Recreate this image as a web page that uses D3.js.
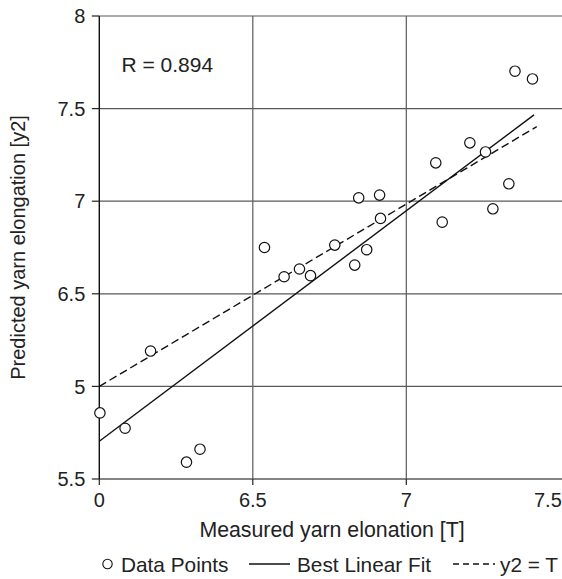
<!DOCTYPE html>
<html>
<head>
<meta charset="utf-8">
<script src="https://cdn.jsdelivr.net/npm/d3@7"></script>
<style>
    body { margin: 0; background: white; }
    svg { display: block; }
    text { font-family: "Liberation Sans", Arial, sans-serif; fill: #222; }
</style>
</head>
<body>
<svg id="chart" width="562" height="579"></svg>
<script>
// measured (T) and predicted (y2) values
var measured = [ 6.002, 6.084, 6.167, 6.284, 6.328, 6.538, 6.602, 6.652, 6.688, 6.767,
    6.832, 6.845, 6.871, 6.913, 6.916, 7.096, 7.117, 7.207, 7.258, 7.282,
    7.334, 7.354, 7.411 ];
var predicted = [ 5.857, 5.774, 6.191, 5.591, 5.661, 6.750, 6.592, 6.634, 6.598, 6.763,
    6.655, 7.018, 6.738, 7.033, 6.907, 7.207, 6.887, 7.315, 7.266, 6.959,
    7.094, 7.702, 7.660 ];

// line end points [T, y2]
var fitLine = [ [ 6.0, 5.704 ], [ 7.416, 7.466 ] ];
var refLine = [ [ 6.0, 6.0 ], [ 7.425, 7.403 ] ];

// ticks and the labels printed on them
var xTicks = [ 6, 6.5, 7, 7.5 ];
var xTickLabels = [ "0", "6.5", "7", "7.5" ];
var yTicks = [ 5.5, 6, 6.5, 7, 7.5, 8 ];
var yTickLabels = [ "5.5", "5", "6.5", "7", "7.5", "8" ];

var rLabel = "R = 0.894";
var legendItems = [ "Data Points", "Best Linear Fit", "y2 = T" ];

var W = 562, H = 579;
var svg = d3.select( "#chart" );

var x = d3.scaleLinear().domain( [ 6, 7.5 ] ).range( [ 99.3, 559.8 ] );
var y = d3.scaleLinear().domain( [ 5.5, 8 ] ).range( [ 479, 16 ] );

var gridColor = "#5a5a5a";

// grid lines
svg.append( "g" ).selectAll( "line" )
    .data( yTicks.slice( 1 ) )
    .enter().append( "line" )
    .attr( "x1", x( 6 ) ).attr( "x2", W )
    .attr( "y1", function ( d ) { return y( d ) } )
    .attr( "y2", function ( d ) { return y( d ) } )
    .style( "stroke", gridColor ).style( "stroke-width", 1.2 );

svg.append( "g" ).selectAll( "line" )
    .data( xTicks.filter( function ( d ) { return d > 6 && d < 7.5 } ) )
    .enter().append( "line" )
    .attr( "x1", function ( d ) { return x( d ) } )
    .attr( "x2", function ( d ) { return x( d ) } )
    .attr( "y1", y( 5.5 ) ).attr( "y2", y( 8 ) )
    .style( "stroke", gridColor ).style( "stroke-width", 1.2 );

// bottom axis
svg.append( "line" )
    .attr( "x1", x( 6 ) ).attr( "x2", W )
    .attr( "y1", y( 5.5 ) ).attr( "y2", y( 5.5 ) )
    .style( "stroke", gridColor ).style( "stroke-width", 1.4 );

var xt = svg.append( "g" ).selectAll( "g" )
    .data( xTicks )
    .enter().append( "g" )
    .attr( "transform", function ( d ) { return "translate(" + x( d ) + "," + y( 5.5 ) + ")" } );
xt.filter( function ( d ) { return d < 7.5 } ).append( "line" )
    .attr( "y2", 6 )
    .style( "stroke", "#222" ).style( "stroke-width", 1.2 );
xt.append( "text" )
    .attr( "y", 28 )
    .attr( "dx", function ( d ) { return d == 7.5 ? 2 : 0 } )
    .attr( "text-anchor", function ( d ) { return d == 7.5 ? "end" : "middle" } )
    .style( "font-size", "20px" )
    .text( function ( d, i ) { return xTickLabels[ i ] } );

// left axis
svg.append( "line" )
    .attr( "x1", x( 6 ) ).attr( "x2", x( 6 ) )
    .attr( "y1", y( 5.5 ) ).attr( "y2", y( 8 ) )
    .style( "stroke", "#111" ).style( "stroke-width", 1.4 );

var yt = svg.append( "g" ).selectAll( "g" )
    .data( yTicks )
    .enter().append( "g" )
    .attr( "transform", function ( d ) { return "translate(" + x( 6 ) + "," + y( d ) + ")" } );
yt.append( "line" )
    .attr( "x2", -7.5 )
    .style( "stroke", "#222" ).style( "stroke-width", 1.2 );
yt.append( "text" )
    .attr( "x", -14 )
    .attr( "dy", "0.36em" )
    .attr( "text-anchor", "end" )
    .style( "font-size", "20px" )
    .text( function ( d, i ) { return yTickLabels[ i ] } );

// axis titles
svg.append( "text" )
    .attr( "x", 332 ).attr( "y", 537 )
    .attr( "text-anchor", "middle" )
    .style( "font-size", "21.3px" )
    .text( "Measured yarn elonation [T]" );

svg.append( "text" )
    .attr( "transform", "translate(25," + ( ( y( 5.5 ) + y( 8 ) ) / 2 ) + ") rotate(-90)" )
    .attr( "text-anchor", "middle" )
    .style( "font-size", "20px" )
    .text( "Predicted yarn elongation [y2]" );

// lines
var line = d3.line()
    .x( function ( d ) { return x( d[ 0 ] ) } )
    .y( function ( d ) { return y( d[ 1 ] ) } );

svg.append( "path" )
    .datum( refLine )
    .attr( "d", line )
    .style( "fill", "none" ).style( "stroke", "#111" )
    .style( "stroke-width", 1.4 ).style( "stroke-dasharray", "8,4" );

svg.append( "path" )
    .datum( fitLine )
    .attr( "d", line )
    .style( "fill", "none" ).style( "stroke", "#111" )
    .style( "stroke-width", 1.4 );

// points
svg.append( "g" ).selectAll( "circle" )
    .data( measured )
    .enter().append( "circle" )
    .attr( "cx", function ( d ) { return x( d ) } )
    .attr( "cy", function ( d, i ) { return y( predicted[ i ] ) } )
    .attr( "r", 5.2 )
    .style( "fill", "white" ).style( "stroke", "#111" ).style( "stroke-width", 1.2 );

// R value
svg.append( "text" )
    .attr( "x", 121.5 ).attr( "y", 71.5 )
    .style( "font-size", "21px" )
    .text( rLabel );

// legend
var ly = 564;
var legend = svg.append( "g" );
legend.append( "circle" )
    .attr( "cx", 107.5 ).attr( "cy", ly ).attr( "r", 4.7 )
    .style( "fill", "white" ).style( "stroke", "#111" ).style( "stroke-width", 1.1 );
legend.append( "text" )
    .attr( "x", 121 ).attr( "y", ly + 7.5 )
    .style( "font-size", "20.8px" )
    .text( legendItems[ 0 ] );
legend.append( "line" )
    .attr( "x1", 249 ).attr( "x2", 290 ).attr( "y1", ly ).attr( "y2", ly )
    .style( "stroke", "#111" ).style( "stroke-width", 1.3 );
legend.append( "text" )
    .attr( "x", 297 ).attr( "y", ly + 7.5 )
    .style( "font-size", "20.8px" )
    .text( legendItems[ 1 ] );
legend.append( "line" )
    .attr( "x1", 453 ).attr( "x2", 495 ).attr( "y1", ly ).attr( "y2", ly )
    .style( "stroke", "#111" ).style( "stroke-width", 1.3 )
    .style( "stroke-dasharray", "6,4" );
legend.append( "text" )
    .attr( "x", 500 ).attr( "y", ly + 7.5 )
    .style( "font-size", "20.8px" )
    .text( legendItems[ 2 ] );
</script>
</body>
</html>
